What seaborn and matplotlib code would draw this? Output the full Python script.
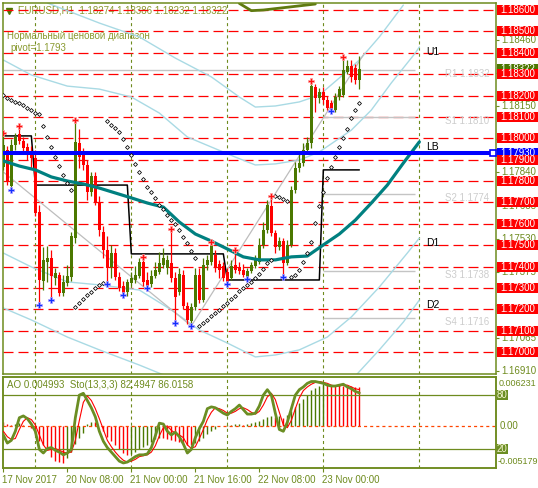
import numpy as np
import pandas as pd
import matplotlib
matplotlib.use("Agg")
import matplotlib.pyplot as plt
import matplotlib.transforms as mtransforms
from matplotlib.patches import Rectangle
import seaborn as sns

# ===============================
# DATA (EURUSD H1)
# ===============================
opens = [1.17866, 1.17945, 1.17777, 1.17968, 1.18020, 1.17987, 1.17959, 1.17936, 1.17908, 1.17655,
         1.17332, 1.17421, 1.17440, 1.17346, 1.17360, 1.17276, 1.17323, 1.17351, 1.17533, 1.17978,
         1.17936, 1.17875, 1.17749, 1.17823, 1.17697, 1.17561, 1.17477, 1.17398, 1.17463, 1.17351,
         1.17309, 1.17281, 1.17323, 1.17337, 1.17356, 1.17421, 1.17337, 1.17318, 1.17356, 1.17374,
         1.17407, 1.17393, 1.17417, 1.17346, 1.17281, 1.17360, 1.17215, 1.17145, 1.17211, 1.17360,
         1.17243, 1.17407, 1.17421, 1.17454, 1.17412, 1.17402, 1.17374, 1.17346, 1.17407, 1.17398,
         1.17384, 1.17351, 1.17379, 1.17402, 1.17421, 1.17501, 1.17571, 1.17683, 1.17557, 1.17491,
         1.17519, 1.17417, 1.17501, 1.17758, 1.17861, 1.17884, 1.17945, 1.17978, 1.18240, 1.18188,
         1.18216, 1.18179, 1.18165, 1.18132, 1.18193, 1.18202, 1.18310, 1.18338, 1.18329, 1.18274]
highs = [1.18025, 1.17964, 1.17997, 1.18025, 1.18057, 1.18006, 1.17978, 1.17964, 1.17945, 1.17688,
         1.17491, 1.17496, 1.17477, 1.17393, 1.17374, 1.17360, 1.17407, 1.17561, 1.18085, 1.18043,
         1.17955, 1.17898, 1.17842, 1.17842, 1.17730, 1.17590, 1.17543, 1.17501, 1.17487, 1.17374,
         1.17332, 1.17342, 1.17374, 1.17402, 1.17440, 1.17445, 1.17374, 1.17384, 1.17421, 1.17468,
         1.17487, 1.17454, 1.17576, 1.17374, 1.17393, 1.17384, 1.17234, 1.17229, 1.17393, 1.17393,
         1.17440, 1.17454, 1.17515, 1.17477, 1.17431, 1.17421, 1.17393, 1.17431, 1.17477, 1.17421,
         1.17412, 1.17393, 1.17421, 1.17454, 1.17533, 1.17608, 1.17711, 1.17730, 1.17571, 1.17538,
         1.17533, 1.17524, 1.17777, 1.17889, 1.17931, 1.17978, 1.18006, 1.18268, 1.18254, 1.18235,
         1.18240, 1.18198, 1.18179, 1.18212, 1.18244, 1.18380, 1.18366, 1.18366, 1.18347, 1.18386]
lows = [1.17852, 1.17781, 1.17758, 1.17945, 1.17973, 1.17931, 1.17898, 1.17861, 1.17636, 1.17220,
        1.17290, 1.17328, 1.17243, 1.17314, 1.17262, 1.17262, 1.17309, 1.17332, 1.17510, 1.17861,
        1.17852, 1.17711, 1.17730, 1.17688, 1.17543, 1.17440, 1.17318, 1.17346, 1.17337, 1.17286,
        1.17267, 1.17262, 1.17309, 1.17323, 1.17346, 1.17309, 1.17300, 1.17304, 1.17346, 1.17365,
        1.17393, 1.17365, 1.17328, 1.17136, 1.17267, 1.17201, 1.17131, 1.17122, 1.17197, 1.17229,
        1.17234, 1.17384, 1.17407, 1.17374, 1.17346, 1.17332, 1.17318, 1.17337, 1.17370, 1.17365,
        1.17351, 1.17342, 1.17370, 1.17393, 1.17412, 1.17487, 1.17557, 1.17543, 1.17463, 1.17477,
        1.17351, 1.17407, 1.17491, 1.17744, 1.17842, 1.17870, 1.17931, 1.17955, 1.18123, 1.18165,
        1.18160, 1.18132, 1.18128, 1.18123, 1.18179, 1.18193, 1.18301, 1.18263, 1.18254, 1.18232]
closes = [1.17968, 1.17795, 1.17968, 1.18006, 1.17987, 1.17955, 1.17931, 1.17908, 1.17650, 1.17337,
          1.17431, 1.17440, 1.17356, 1.17370, 1.17276, 1.17328, 1.17356, 1.17543, 1.17983, 1.17912,
          1.17875, 1.17749, 1.17823, 1.17702, 1.17571, 1.17477, 1.17393, 1.17463, 1.17351, 1.17300,
          1.17276, 1.17328, 1.17346, 1.17360, 1.17421, 1.17328, 1.17309, 1.17356, 1.17384, 1.17417,
          1.17440, 1.17431, 1.17346, 1.17257, 1.17365, 1.17215, 1.17150, 1.17211, 1.17360, 1.17243,
          1.17407, 1.17431, 1.17501, 1.17398, 1.17384, 1.17346, 1.17328, 1.17402, 1.17384, 1.17379,
          1.17360, 1.17379, 1.17407, 1.17440, 1.17501, 1.17571, 1.17688, 1.17557, 1.17491, 1.17519,
          1.17417, 1.17501, 1.17758, 1.17861, 1.17884, 1.17945, 1.17978, 1.18244, 1.18188, 1.18216,
          1.18179, 1.18142, 1.18132, 1.18193, 1.18230, 1.18319, 1.18338, 1.18287, 1.18273, 1.18322]

# parabolic SAR dots
sar = [1.18202, 1.18188, 1.18179, 1.18170, 1.18165, 1.18156, 1.18142, 1.18132, 1.18118, 1.18114,
       1.18057, 1.18006, 1.17959, 1.17912, 1.17870, 1.17828, 1.17791, 1.17758, 1.17211, 1.17229,
       1.17248, 1.17267, 1.17281, 1.17300, 1.17314, 1.17323, 1.18081, 1.18062, 1.18048, 1.18029,
       1.17997, 1.17959, 1.17922, 1.17880, 1.17842, 1.17809, 1.17772, 1.17749, 1.17721, 1.17688,
       1.17669, 1.17641, 1.17617, 1.17599, 1.17571, 1.17538, 1.17510, 1.17473, 1.17440, 1.17122,
       1.17136, 1.17150, 1.17169, 1.17183, 1.17197, 1.17215, 1.17229, 1.17248, 1.17262, 1.17286,
       1.17300, 1.17314, 1.17328, 1.17346, 1.17365, 1.17388, 1.17417, 1.17431, 1.17730, 1.17725,
       1.17716, 1.17707, 1.17351, 1.17360, 1.17384, 1.17421, 1.17463, 1.17515, 1.17603, 1.17683,
       1.17749, 1.17814, 1.17866, 1.17912, 1.17959, 1.18001, 1.18043, 1.18095, 1.18132, 1.18165]

fractal_up = [0, 4, 18, 35, 42, 52, 58, 67, 77, 85]
fractal_down = [2, 9, 12, 26, 30, 36, 43, 47, 56, 61, 70, 82]

# shifted moving average (teal)
ma_bars = [0, 4, 8, 12, 16, 20, 24, 28, 32, 36, 40, 44, 48, 52, 56, 60, 64, 68, 72, 76, 80, 84, 88, 92, 96, 100, 104]
ma_vals = [1.17894, 1.17870, 1.17852, 1.17819, 1.17800, 1.17786, 1.17767, 1.17744, 1.17721, 1.17697,
           1.17678, 1.17608, 1.17552, 1.17519, 1.17482, 1.17445, 1.17431, 1.17431, 1.17445, 1.17449,
           1.17501, 1.17552, 1.17617, 1.17697, 1.17781, 1.17884, 1.17983]

# light blue channel curves
band_p_bars = [11, 24, 34, 43, 52, 59, 63, 68, 74, 79, 84, 89, 94, 100]
band_p_vals = [1.18633, 1.18539, 1.18474, 1.18375, 1.18287, 1.18193, 1.18146, 1.18151, 1.18170, 1.18202,
               1.18282, 1.18366, 1.18474, 1.18623]
band_u1_bars = [0, 7, 16, 24, 32, 39, 46, 52, 58, 63, 68, 74, 79, 87, 92, 97, 103, 104]
band_u1_vals = [1.18366, 1.18296, 1.18244, 1.18230, 1.18193, 1.18118, 1.18006, 1.17959, 1.17912, 1.17875,
                1.17880, 1.17898, 1.17936, 1.18038, 1.18132, 1.18259, 1.18399, 1.18427]
band_d1_bars = [0, 7, 16, 24, 34, 42, 49, 56, 63, 68, 74, 81, 87, 94, 101, 104]
band_d1_vals = [1.17463, 1.17398, 1.17328, 1.17314, 1.17290, 1.17197, 1.17103, 1.17042, 1.16977, 1.16986,
                1.17010, 1.17070, 1.17164, 1.17304, 1.17463, 1.17533]
band_d2_bars = [0, 7, 16, 24, 34, 42, 49, 56, 63, 68, 74, 81, 88, 94, 100, 104]
band_d2_vals = [1.17206, 1.17150, 1.17070, 1.17010, 1.16939, 1.16878, 1.16813, 1.16766, 1.16729, 1.16729,
                1.16752, 1.16799, 1.16888, 1.17010, 1.17140, 1.17243]

# gray trend lines
trend1_bars = [0, 47]
trend1_vals = [1.17842, 1.17122]
trend2_bars = [47, 90]
trend2_vals = [1.17122, 1.18390]

# olive curve at the top edge
top_bars = [59, 62, 65, 78]
top_vals = [1.18631, 1.18597, 1.18600, 1.18628]

# daily level (black step line)
day_levels = [1.18011, 1.17781, 1.17459, 1.17337, 1.17852]
day_lengths = [8, 24, 24, 24, 10]
day_starts = [8, 32, 56, 80, 104]

# pivot levels
pivot_names = ["R1", "S1", "S2", "S3", "S4"]
pivot_vals = [1.1832, 1.1810, 1.1774, 1.1738, 1.1716]
pivot_from = [0, 80, 80, 80, 80]
pivot_to = 103
lb_level = 1.1793
channel_names = ["U1", "LB", "D1", "D2"]

grid_levels = [1.1700, 1.1710, 1.1720, 1.1730, 1.1740, 1.1750, 1.1760, 1.1770, 1.1780,
               1.1790, 1.1800, 1.1810, 1.1820, 1.1830, 1.1840, 1.1850, 1.1860]
price_ticks = [1.18460, 1.18305, 1.18150, 1.17995, 1.17840, 1.17685, 1.17530, 1.17375,
               1.17220, 1.17065, 1.16910]
# scale values that the red level boxes cover completely
price_ticks_hidden = [1.18305, 1.17995, 1.17220]
bid = 1.18322

time_ticks = [0, 16, 32, 48, 64, 80]
time_labels = ["17 Nov 2017", "20 Nov 08:00", "21 Nov 00:00", "21 Nov 16:00", "22 Nov 08:00", "23 Nov 00:00"]

# Awesome Oscillator + Stochastic(13,3,3)
ao = [0.0006, 0.0003, 0.0002, 0.0003, 0.0004, 0.0002, 0.0001, -0.0002, -0.0008, -0.0018,
      -0.0024, -0.0030, -0.0039, -0.0043, -0.0045, -0.0046, -0.0040, -0.0032, -0.0022, -0.0015,
      -0.0008, 0.0003, 0.0006, 0.0005, 0.0001, -0.0006, -0.0013, -0.0019, -0.0024, -0.0029,
      -0.0033, -0.0036, -0.0035, -0.0032, -0.0029, -0.0026, -0.0023, -0.0020, -0.0016, -0.0014,
      -0.0015, -0.0016, -0.0017, -0.0019, -0.0020, -0.0021, -0.0023, -0.0024, -0.0021, -0.0018,
      -0.0014, -0.0010, -0.0006, -0.0003, 0.0001, 0.0001, 0.0002, 0.0002, 0.0003, 0.0003,
      0.0002, 0.0003, 0.0004, 0.0005, 0.0007, 0.0009, 0.0012, 0.0013, 0.0012, 0.0013,
      0.0011, 0.0014, 0.0019, 0.0025, 0.0030, 0.0035, 0.0040, 0.0046, 0.0049, 0.0051,
      0.0053, 0.00528, 0.00524, 0.00520, 0.00516, 0.00512, 0.00508, 0.00504, 0.00501, 0.004993]
sto_main = [36, 27, 30, 40, 55, 57, 54, 48, 40, 20, 16, 21, 22, 19, 17, 14, 16, 20, 55, 80,
            82, 74, 66, 56, 40, 29, 22, 17, 12, 7, 5, 6, 9, 12, 14, 14, 15, 22, 35, 49,
            48, 40, 36, 39, 34, 26, 16, 20, 33, 43, 51, 65, 67, 66, 63, 60, 58, 62, 65, 69,
            64, 59, 59, 60, 68, 80, 86, 80, 60, 42, 40, 50, 65, 80, 86, 89, 93, 95, 95, 94,
            93, 91, 90, 90, 91, 92, 89, 87, 84, 82.49]
sto_signal = [40, 34, 31, 32, 42, 51, 55, 53, 47, 36, 25, 19, 20, 21, 19, 17, 16, 17, 30, 52,
              72, 79, 74, 65, 54, 42, 30, 23, 17, 12, 8, 6, 7, 9, 12, 13, 14, 17, 24, 35,
              44, 46, 41, 38, 36, 33, 25, 21, 23, 32, 42, 53, 61, 66, 65, 63, 60, 60, 62, 65,
              66, 64, 61, 59, 62, 69, 78, 82, 75, 61, 47, 44, 52, 65, 77, 85, 89, 92, 94, 95,
              94, 93, 91, 90, 90, 91, 91, 89, 87, 86.02]

# ===============================
# STYLE
# ===============================
sns.set_style("white")
plt.rcParams["font.family"] = ["Liberation Sans", "DejaVu Sans"]
plt.rcParams["lines.scale_dashes"] = False

OLIVE = "#6E8B1E"
UP = "#4B7800"
DOWN = "#FF0000"
W, H = 538, 488

fig = plt.figure(figsize=(W / 100, H / 100), dpi=100)


def px_box(x0, y0, x1, y1):
    return [x0 / W, 1 - y1 / H, (x1 - x0) / W, (y1 - y0) / H]


ax = fig.add_axes(px_box(2.7, 2.7, 495.7, 374))
axs = fig.add_axes(px_box(2.7, 377, 495.7, 467.5))

x_left = -0.16
x_right = x_left + 493 / 4.0
for a in (ax, axs):
    a.set_xlim(x_left, x_right)
    for sp in a.spines.values():
        sp.set_color(OLIVE)
        sp.set_linewidth(1.1)
ax.set_ylim(1.168971, 1.186342)

df = pd.DataFrame({"open": opens, "high": highs, "low": lows, "close": closes, "sar": sar})
df["bar"] = np.arange(len(df))
df["color"] = np.where(df["close"] >= df["open"], UP, DOWN)

# --- grid levels & day separators ---
for lvl in grid_levels:
    ax.axhline(lvl, color="red", lw=0.9, dashes=(7.2, 3.6), zorder=1)
for d in day_starts:
    for a in (ax, axs):
        a.axvline(d, color=OLIVE, lw=0.8, dashes=(2.2, 2.2), zorder=1)

# --- pivots ---
ax.hlines(pivot_vals, pivot_from, pivot_to, color="#C4C4C4", lw=1.0, zorder=1.5)
for name, val in zip(pivot_names, pivot_vals):
    ax.annotate(f"{name} {val:.4f}", (110.4, val), xytext=(0, -3), textcoords="offset points",
                ha="left", va="center", fontsize=7, color="#CDCDCD", zorder=2)

# --- channel curves ---
for bx, bv in [(band_p_bars, band_p_vals), (band_u1_bars, band_u1_vals),
               (band_d1_bars, band_d1_vals), (band_d2_bars, band_d2_vals)]:
    sns.lineplot(x=bx, y=bv, ax=ax, color="#A9DAE4", lw=1.0, zorder=1.6)
for bx, bv in [(trend1_bars, trend1_vals), (trend2_bars, trend2_vals)]:
    sns.lineplot(x=bx, y=bv, ax=ax, color="#BDBDBD", lw=0.9, zorder=1.6)
sns.lineplot(x=top_bars, y=top_vals, ax=ax, color="#5F7A10", lw=2.0, zorder=2)

# --- daily step line ---
step_vals = np.repeat(day_levels, day_lengths)
ax.plot(df["bar"], step_vals, color="black", lw=1.1, zorder=2)

# --- candles ---
body_low = np.minimum(df["open"], df["close"])
body_h = np.maximum(np.abs(df["close"] - df["open"]), 0.00004)
ax.vlines(df["bar"], df["low"], df["high"], colors=df["color"], lw=0.9, zorder=3)
ax.bar(df["bar"], body_h, bottom=body_low, width=0.75, color=df["color"], lw=0, zorder=3)

# --- MA, LB, SAR, fractals ---
sns.lineplot(x=ma_bars, y=ma_vals, ax=ax, color="#008080", lw=2.3, zorder=4)
ax.axhline(lb_level, color="#0000FF", lw=2.9, zorder=4)
ax.plot([x_right - 0.7], [lb_level], marker="s", ms=3.8, mfc="white", mec="#0000FF", mew=1.2,
        zorder=5, clip_on=False)
sns.scatterplot(data=df, x="bar", y="sar", ax=ax, marker="D", s=4, color="white",
                edgecolor="black", linewidth=0.55, zorder=5)
sns.scatterplot(x=fractal_up, y=df["high"].iloc[fractal_up].values, ax=ax, marker="P", s=20,
                color="#FF1010", edgecolor="#FFA0A0", linewidth=0.5, zorder=6)
sns.scatterplot(x=fractal_down, y=df["low"].iloc[fractal_down].values, ax=ax, marker="P", s=20,
                color="#1030FF", edgecolor="#B0A0FF", linewidth=0.5, zorder=6)
ax.set_xlabel("")
ax.set_ylabel("")

# --- channel labels ---
ends = [(band_u1_bars[-1], band_u1_vals[-1]), (ma_bars[-1], ma_vals[-1]),
        (band_d1_bars[-1], band_d1_vals[-1]), (band_d2_bars[-1], band_d2_vals[-1])]
for name, (bx, bv) in zip(channel_names, ends):
    ax.annotate(name, (bx, bv), xytext=(5, -3.6), textcoords="offset points", ha="left",
                va="center", fontsize=7.5, color="black", zorder=6)

# --- texts top-left ---
ax.plot(0.0128, 0.978, marker="v", ms=4, color="#4B7800", transform=ax.transAxes, zorder=0.5)
ax.text(0.031, 0.980, "EURUSD,H1  1.18274 1.18386 1.18232 1.18322", transform=ax.transAxes,
        ha="left", va="center", fontsize=7, color="#8A9A30", zorder=0.5)
ax.text(0.0087, 0.910, "Нормальный ценовой диапазон", transform=ax.transAxes,
        ha="left", va="center", fontsize=7, color="#8A9A30", zorder=0.5)
ax.text(0.0148, 0.878, "pivot=1.1793", transform=ax.transAxes,
        ha="left", va="center", fontsize=7, color="#8A9A30", zorder=0.5)

# --- right price scale ---
ax.set_xticks([])
ax.set_yticks(price_ticks)
ax.tick_params(axis="y", left=False, right=True, labelleft=False, labelright=False,
               length=2.5, color=OLIVE, direction="out")
ax.tick_params(axis="x", bottom=False)
bt = mtransforms.blended_transform_factory(ax.transAxes, ax.transData)
for p in price_ticks:
    if p in price_ticks_hidden:
        continue
    ax.text(1.0107, p, f"{p:.5f}", transform=bt, ha="left", va="center", fontsize=7,
            color=OLIVE, clip_on=False, zorder=5)

box_h = 10 / 21375


def price_box(a, trans, y, h, label, fc, tc, z, x0=1.002, w=0.0838):
    a.add_patch(Rectangle((x0, y - h / 2), w, h, transform=trans, fc=fc, ec="none",
                          clip_on=False, zorder=z))
    a.text(x0 + w / 2, y, label, transform=trans, ha="center", va="center", fontsize=7,
           color=tc, clip_on=False, zorder=z + 0.1)


price_box(ax, bt, bid, box_h, f"{bid:.5f}", "#4B7800", "white", 6)
price_box(ax, bt, lb_level, box_h, f"{lb_level:.5f}", "#0000FF", "white", 6.5)
for lvl in grid_levels:
    price_box(ax, bt, lvl, box_h, f"{lvl:.5f}", "#FF0000", "white", 7)

# ===============================
# INDICATOR WINDOW
# ===============================
axs.set_ylim(-0.005179, 0.006231)
ao_arr = np.array(ao)
ao_col = [DOWN] + [UP if ao_arr[i] >= ao_arr[i - 1] else DOWN for i in range(1, len(ao_arr))]
axs.vlines(df["bar"], 0, ao_arr, colors=ao_col, lw=1.0, zorder=2)
axs.axhline(0, color="#FF4500", lw=0.9, dashes=(2.2, 2.2), zorder=2)

axt = axs.twinx()
axt.set_ylim(0, 100)
axt.set_xlim(x_left, x_right)
for sp in axt.spines.values():
    sp.set_color(OLIVE)
    sp.set_linewidth(1.1)
axt.axhline(80, color=OLIVE, lw=0.9, zorder=2)
axt.axhline(20, color=OLIVE, lw=0.9, zorder=2)
sns.lineplot(x=df["bar"], y=sto_signal, ax=axt, color="#FF0000", lw=0.8, zorder=3)
sns.lineplot(x=df["bar"], y=sto_main, ax=axt, color="#6B8E23", lw=2.0, zorder=4)
axt.set_yticks([])
axt.set_ylabel("")
axs.set_yticks([])
axs.set_xticks(time_ticks)
axs.tick_params(axis="x", bottom=True, labelbottom=False, length=3, color=OLIVE, direction="out")
axs.set_ylabel("")
axs.set_xlabel("")
axt.set_xlabel("")

axs.text(0.0087, 0.912, "AO 0.004993  Sto(13,3,3) 82.4947 86.0158", transform=axs.transAxes,
         ha="left", va="center", fontsize=7, color=OLIVE)
axs.text(1.0067, 0.9227, "0.006231", transform=axs.transAxes, ha="left", va="center",
         fontsize=6.5, color=OLIVE, clip_on=False)
axs.text(1.0045, 0.0718, "-0.005179", transform=axs.transAxes, ha="left", va="center",
         fontsize=6.5, color=OLIVE, clip_on=False)
bt_ao = mtransforms.blended_transform_factory(axs.transAxes, axs.transData)
axs.text(1.0087, 0, "0.00", transform=bt_ao, ha="left", va="center", fontsize=7,
         color=OLIVE, clip_on=False)
bt_st = mtransforms.blended_transform_factory(axt.transAxes, axt.transData)
for lvl in (80, 20):
    price_box(axt, bt_st, lvl, 11, str(lvl), "#6B8E23", "#F4F4D0", 6, x0=1.002, w=0.023)

bt_time = mtransforms.blended_transform_factory(axs.transData, axs.transAxes)
for t, lab in zip(time_ticks, time_labels):
    axs.text(t - 0.4, -0.133, lab, transform=bt_time, ha="left", va="center", fontsize=7,
             color=OLIVE, clip_on=False)

fig.savefig("out.png", dpi=100, facecolor="white")
